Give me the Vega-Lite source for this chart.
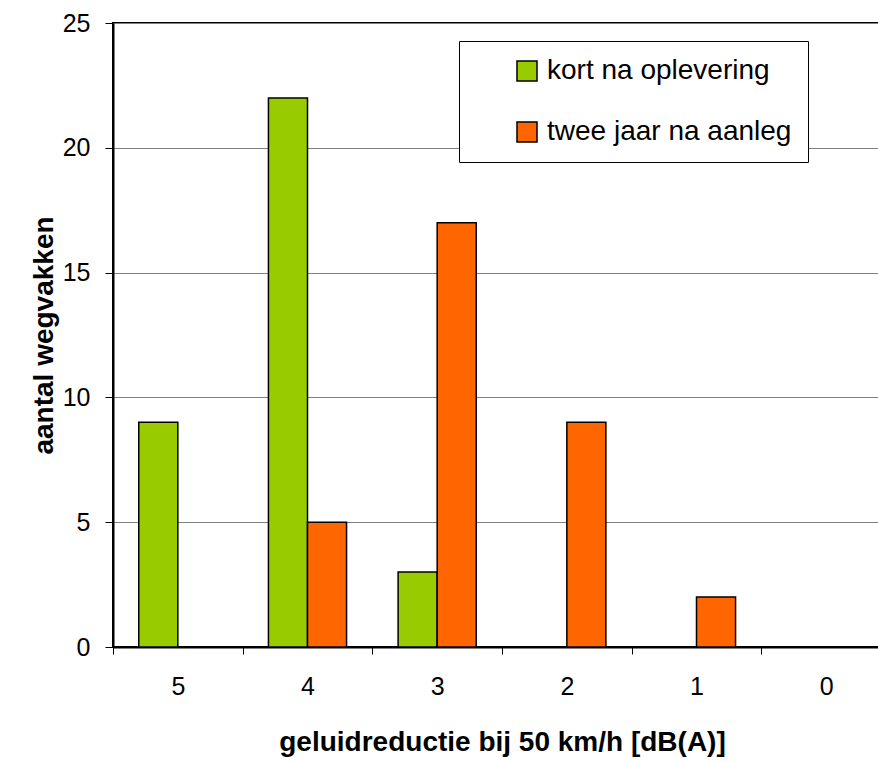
{
  "$schema": "https://vega.github.io/schema/vega-lite/v6.json",
  "width": 778,
  "height": 624,
  "autosize": "none",
  "padding": {"left": 113, "top": 23, "right": 0, "bottom": 115},
  "background": "white",
  "config": {
    "font": "Liberation Sans",
    "view": {"stroke": "black", "strokeWidth": 2}
  },
  "data": {
    "values": [
      {"reductie": "5", "periode": "kort na oplevering", "aantal": 9},
      {"reductie": "4", "periode": "kort na oplevering", "aantal": 22},
      {"reductie": "3", "periode": "kort na oplevering", "aantal": 3},
      {"reductie": "2", "periode": "kort na oplevering", "aantal": 0},
      {"reductie": "1", "periode": "kort na oplevering", "aantal": 0},
      {"reductie": "0", "periode": "kort na oplevering", "aantal": 0},
      {"reductie": "5", "periode": "twee jaar na aanleg", "aantal": 0},
      {"reductie": "4", "periode": "twee jaar na aanleg", "aantal": 5},
      {"reductie": "3", "periode": "twee jaar na aanleg", "aantal": 17},
      {"reductie": "2", "periode": "twee jaar na aanleg", "aantal": 9},
      {"reductie": "1", "periode": "twee jaar na aanleg", "aantal": 2},
      {"reductie": "0", "periode": "twee jaar na aanleg", "aantal": 0}
    ]
  },
  "mark": {"type": "bar", "stroke": "black", "strokeWidth": 1.5},
  "encoding": {
    "x": {
      "field": "reductie",
      "type": "nominal",
      "sort": ["5", "4", "3", "2", "1", "0"],
      "scale": {"paddingInner": 0, "paddingOuter": 0},
      "axis": {
        "title": "geluidreductie bij 50 km/h [dB(A)]",
        "labelAngle": 0,
        "tickBand": "extent",
        "domainColor": "black",
        "domainWidth": 2,
        "tickColor": "black",
        "tickSize": 7,
        "labelFontSize": 25,
        "labelColor": "black",
        "labelPadding": 20,
        "titleFontSize": 28,
        "titleFontWeight": "bold",
        "titleColor": "black",
        "titlePadding": 29
      }
    },
    "xOffset": {
      "field": "periode",
      "type": "nominal",
      "sort": ["kort na oplevering", "twee jaar na aanleg"],
      "scale": {"paddingInner": 0, "paddingOuter": 0.66}
    },
    "y": {
      "field": "aantal",
      "type": "quantitative",
      "scale": {"domain": [0, 25], "nice": false},
      "axis": {
        "title": "aantal wegvakken",
        "values": [0, 5, 10, 15, 20, 25],
        "grid": true,
        "gridColor": "#808080",
        "gridWidth": 1,
        "domainColor": "black",
        "domainWidth": 2,
        "tickColor": "black",
        "tickSize": 8,
        "labelFontSize": 25,
        "labelColor": "black",
        "labelPadding": 15,
        "titleFontSize": 28,
        "titleFontWeight": "bold",
        "titleColor": "black",
        "titlePadding": 4
      }
    },
    "color": {
      "field": "periode",
      "type": "nominal",
      "sort": ["kort na oplevering", "twee jaar na aanleg"],
      "scale": {"range": ["#99CC00", "#FF6600"]},
      "legend": {
        "orient": "none",
        "legendX": 346,
        "legendY": 18,
        "title": null,
        "padding": 16,
        "strokeColor": "black",
        "fillColor": "white",
        "symbolType": "square",
        "symbolSize": 400,
        "symbolStrokeColor": "black",
        "symbolStrokeWidth": 1.5,
        "symbolOffset": 38,
        "labelFontSize": 28,
        "labelColor": "black",
        "labelOffset": 6,
        "labelLimit": 500,
        "rowPadding": 33
      }
    }
  }
}
